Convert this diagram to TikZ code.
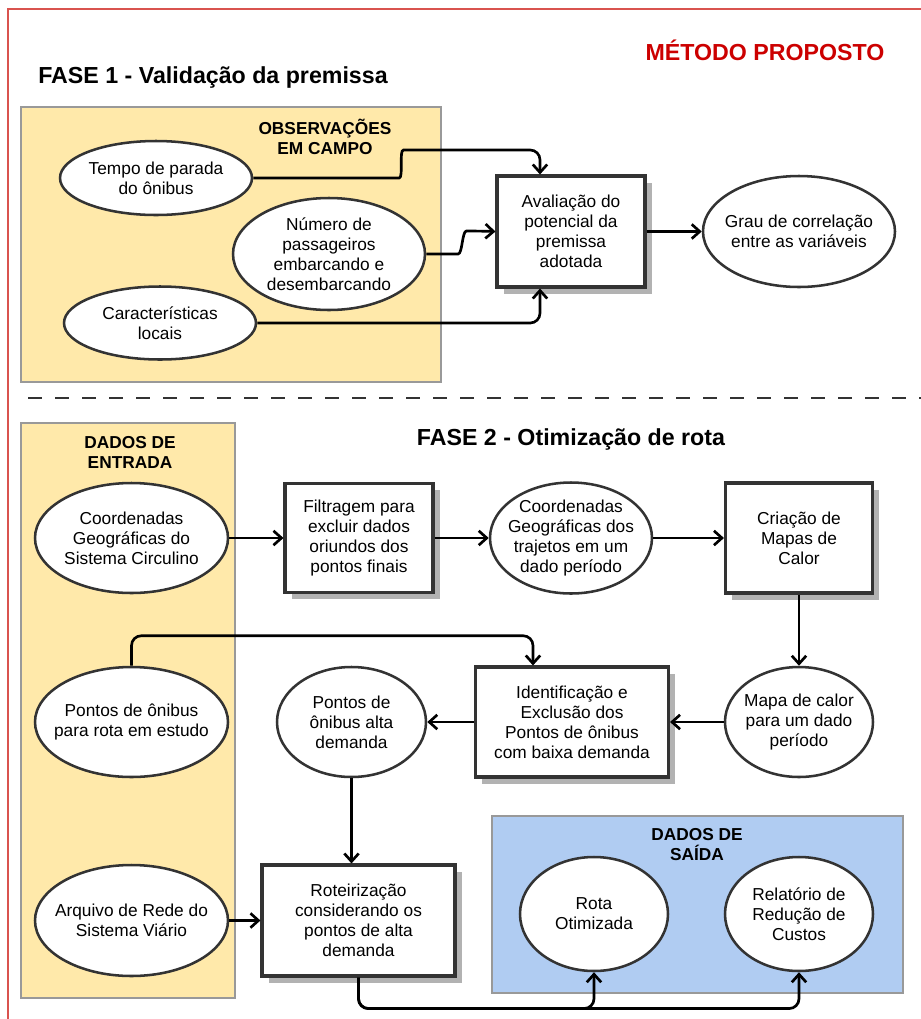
\documentclass[tikz,border=0pt]{standalone}
\usepackage{fontspec}
\setmainfont{Liberation Sans}
\usetikzlibrary{shapes.geometric, shadows, arrows.meta}
\definecolor{amarelo}{HTML}{FFE9AA}
\definecolor{azul}{HTML}{B0CCF2}
\definecolor{moldura}{HTML}{D9534F}
\definecolor{vermelho}{HTML}{CC0000}
\definecolor{traco}{HTML}{333333}
\tikzset{
    every node/.style={font=\fontsize{12.3pt}{14.2pt}\selectfont, align=center,
    	inner sep=0pt},
    elli/.style={ellipse, draw=traco, fill=white, line width=1.8pt, inner xsep=-8pt},
    caixa/.style={rectangle, draw=traco, fill=white, line width=2.2pt,
    	drop shadow={shadow xshift=0.17cm, shadow yshift=-0.17cm, fill=black!30, opacity=1}},
    grupo/.style={rectangle, draw=black!40, line width=0.8pt},
    rotulo/.style={font=\fontsize{12.3pt}{14.2pt}\selectfont\bfseries},
    titulo/.style={font=\fontsize{16.5pt}{20pt}\selectfont\bfseries},
    seta/.style={-{Straight Barb[length=2mm,width=3.6mm]}, line width=1.9pt,
    	rounded corners=7pt}
}

\begin{document}
\begin{tikzpicture}
	\useasboundingbox (0cm,0cm) rectangle (23.025cm,-25.475cm);
	\draw[moldura, line width=1.4pt] (0.2cm,-25.475cm) -- (0.2cm,-0.225cm) -- (23.025cm,-0.225cm);

	\node (t0) [titulo, text=vermelho] at (19.125cm,-1.25cm) {MÉTODO PROPOSTO};
	\node (t1) [titulo] at (5.325cm,-1.925cm) {FASE 1 - Validação da premissa};
	\node (t2) [titulo] at (14.275cm,-10.975cm) {FASE 2 - Otimização de rota};

	\node (g1) [grupo, fill=amarelo, minimum width=10.5cm, minimum height=6.875cm] at (5.775cm,-6.1125cm) {};
	\node (g2) [grupo, fill=amarelo, minimum width=5.35cm, minimum height=14.375cm] at (3.2cm,-17.7625cm) {};
	\node (g3) [grupo, fill=azul, minimum width=10.275cm, minimum height=4.425cm] at (17.4375cm,-22.6125cm) {};
	\node (r1) [rotulo] at (8.125cm,-3.425cm) {OBSERVAÇÕES\\EM CAMPO};
	\node (r2) [rotulo] at (3.25cm,-11.3cm) {DADOS DE\\ENTRADA};
	\node (r3) [rotulo] at (17.425cm,-21.125cm) {DADOS DE\\SAÍDA};

	\draw[traco, line width=1.3pt, dash pattern=on 0.35cm off 0.325cm] (0.7cm,-9.95cm) -- (23.025cm,-9.95cm);

	% fase 1
	\node (1) [elli, minimum width=4.8cm, minimum height=1.85cm] at (3.9cm, -4.45cm) {Tempo de parada\\do ônibus};
	\node (2) [elli, minimum width=4.8cm, minimum height=2.8cm] at (8.225cm, -6.35cm) {Número de\\passageiros\\embarcando e\\desembarcando};
	\node (3) [elli, minimum width=4.8cm, minimum height=1.825cm] at (4.0cm, -8.075cm) {Características\\locais};
	\node (4) [caixa, minimum width=3.7cm, minimum height=2.775cm] at (14.275cm, -5.7875cm) {Avaliação do\\potencial da\\premissa\\adotada};
	\node (5) [elli, minimum width=4.8cm, minimum height=2.775cm] at (19.975cm, -5.7875cm) {Grau de correlação\\entre as variáveis};

	% fase 2
	\node (6) [elli, minimum width=4.825cm, minimum height=2.75cm] at (3.2875cm, -13.45cm) {Coordenadas\\Geográficas do\\Sistema Circulino};
	\node (7) [caixa, minimum width=3.7cm, minimum height=2.725cm] at (8.975cm, -13.45cm) {Filtragem para\\excluir dados\\oriundos dos\\pontos finais};
	\node (8) [elli, minimum width=4.05cm, minimum height=2.775cm] at (14.275cm, -13.45cm) {Coordenadas\\Geográficas dos\\trajetos em um\\dado período};
	\node (9) [caixa, minimum width=3.675cm, minimum height=2.75cm] at (19.975cm, -13.45cm) {Criação de\\Mapas de\\Calor};
	\node (10) [elli, minimum width=3.7cm, minimum height=2.75cm] at (19.975cm, -18.05cm) {Mapa de calor\\para um dado\\período};
	\node (11) [caixa, minimum width=4.825cm, minimum height=2.75cm] at (14.3cm, -18.05cm) {Identificação e\\Exclusão dos\\Pontos de ônibus\\com baixa demanda};
	\node (12) [elli, minimum width=3.725cm, minimum height=2.75cm] at (8.7875cm, -18.05cm) {Pontos de\\ônibus alta\\demanda};
	\node (13) [elli, minimum width=4.825cm, minimum height=2.75cm] at (3.2875cm, -18.05cm) {Pontos de ônibus\\para rota em estudo};
	\node (14) [elli, minimum width=4.825cm, minimum height=2.775cm] at (3.2875cm, -23.0125cm) {Arquivo de Rede do\\Sistema Viário};
	\node (15) [caixa, minimum width=4.825cm, minimum height=2.775cm] at (8.9625cm, -23.0125cm) {Roteirização\\considerando os\\pontos de alta\\demanda};
	\node (16) [elli, minimum width=3.7cm, minimum height=2.85cm] at (14.85cm, -22.85cm) {Rota\\Otimizada};
	\node (17) [elli, minimum width=3.7cm, minimum height=2.85cm] at (19.975cm, -22.85cm) {Relatório de\\Redução de\\Custos};

	\draw[seta] (1.east) -- ++(3.4cm,0) to[out=0,in=180] ++(0.6cm,0.7cm) -| ([xshift=-0.775cm]4.north);
	\draw[seta] (2.east) -- ++(0.55cm,0) to[out=0,in=180] ++(0.7cm,0.575cm) -- (4.west);
	\draw[seta] (3.east) -| ([xshift=-0.775cm]4.south);
	\draw[seta] (4.east) -- (5.west);

	\draw[seta] (6.east) -- (7.west); \draw[seta] (7.east) -- (8.west);
	\draw[seta] (8.east) -- (9.west); \draw[seta] (9.south) -- (10.north);
	\draw[seta] (10.west) -- (11.east); \draw[seta] (11.west) -- (12.east);
	\draw[seta] (13.north) -- ++(0,0.75cm) -| ([xshift=-0.975cm]11.north);
	\draw[seta] (12.south) -- (12.south |- 15.north);
	\draw[seta] (14.east) -- (15.west);
	\draw[seta] (15.south) -- ++(0,-0.775cm) -| (16.south);
	\draw[seta] (15.south) -- ++(0,-0.775cm) -| (17.south);
\end{tikzpicture}
\end{document}
